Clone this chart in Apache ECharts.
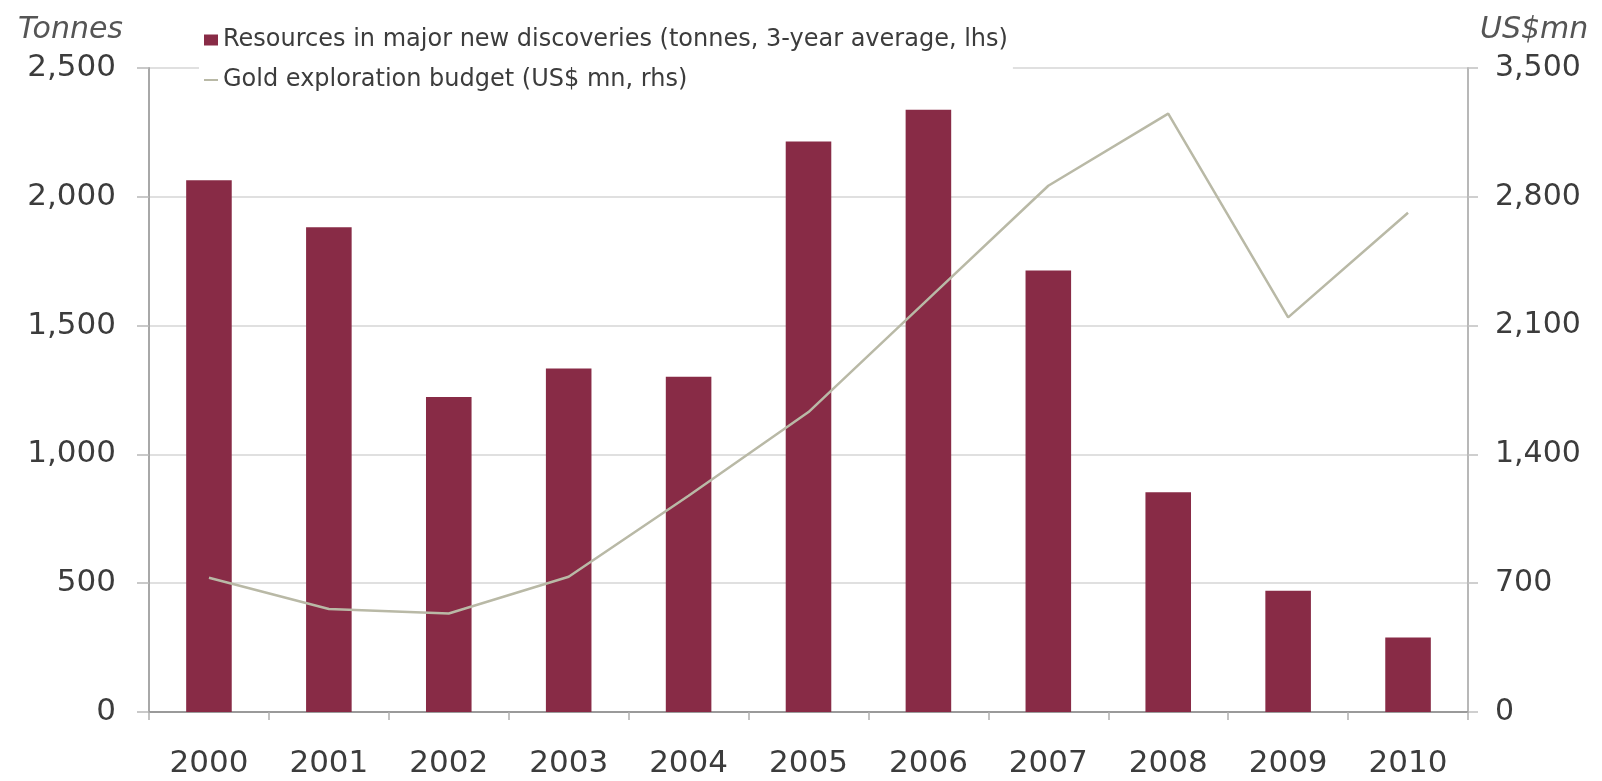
<!DOCTYPE html>
<html>
<head>
<meta charset="utf-8">
<script src="https://cdn.jsdelivr.net/npm/echarts@6/dist/echarts.min.js"></script>
<style>
  html, body { margin: 0; padding: 0; background: #ffffff; }
  #chart { width: 1602px; height: 781px; }
</style>
</head>
<body>
<div id="chart"></div>
<script>
const years = ['2000','2001','2002','2003','2004','2005','2006','2007','2008','2009','2010'];
const discoveries = [2064, 1882, 1223, 1333, 1301, 2215, 2338, 1714, 853, 471, 289];
const budget = [730, 560, 535, 735, 1175, 1630, 2245, 2860, 3252, 2145, 2713];
const leftTicks = { min: 0, max: 2500, interval: 500 };
const rightTicks = { min: 0, max: 3500, interval: 700 };
const barName = 'Resources in major new discoveries (tonnes, 3-year average, lhs)';
const lineName = 'Gold exploration budget (US$ mn, rhs)';

const fmt = v => String(v).replace(/\B(?=(\d{3})+(?!\d))/g, ',');
const FONT = 'DejaVu Sans';
const TEXT = '#3c3c3c';

const chart = echarts.init(document.getElementById('chart'), null, { renderer: 'canvas' });
chart.setOption({
  backgroundColor: '#ffffff',
  animation: false,
  grid: { left: 149, right: 134, top: 68, bottom: 69, containLabel: false },
  legend: {
    orient: 'vertical',
    left: 199,
    top: 23,
    padding: 5,
    backgroundColor: '#ffffff',
    itemWidth: 14,
    itemHeight: 11,
    itemGap: 16,
    textStyle: { fontFamily: FONT, fontSize: 24, color: TEXT, lineHeight: 20 },
    data: [
      { name: barName, icon: 'rect' },
      { name: lineName, icon: 'path://M0,0h14v2h-14z' }
    ]
  },
  xAxis: {
    type: 'category',
    data: years,
    axisLine: { lineStyle: { color: '#9a9a9a', width: 2 } },
    axisTick: { show: true, alignWithLabel: false, length: 8, lineStyle: { color: '#b0b0b0', width: 1.5 } },
    axisLabel: { fontFamily: FONT, fontSize: 31, color: TEXT, margin: 36 }
  },
  yAxis: [
    {
      type: 'value',
      min: leftTicks.min, max: leftTicks.max, interval: leftTicks.interval,
      name: 'Tonnes',
      nameLocation: 'end',
      nameGap: 38,
      nameTextStyle: { fontFamily: FONT, fontSize: 30, fontStyle: 'italic', color: '#555', align: 'right', verticalAlign: 'middle', padding: [0, 26, 0, 0] },
      axisLine: { show: true, lineStyle: { color: '#a8a8a8', width: 2 } },
      axisTick: { show: true, length: 12, lineStyle: { color: '#b8b8b8', width: 1.5 } },
      axisLabel: { fontFamily: FONT, fontSize: 31, color: TEXT, margin: 33, formatter: fmt },
      splitLine: { show: true, lineStyle: { color: '#d6d6d6', width: 1.5 } }
    },
    {
      type: 'value',
      min: rightTicks.min, max: rightTicks.max, interval: rightTicks.interval,
      name: 'US$mn',
      nameLocation: 'end',
      nameGap: 38,
      nameTextStyle: { fontFamily: FONT, fontSize: 30, fontStyle: 'italic', color: '#555', align: 'left', verticalAlign: 'middle', padding: [0, 0, 0, 12] },
      axisLine: { show: true, lineStyle: { color: '#b8b8b8', width: 2 } },
      axisTick: { show: true, length: 10, lineStyle: { color: '#c0c0c0', width: 1.5 } },
      axisLabel: { fontFamily: FONT, fontSize: 30, color: TEXT, margin: 27, formatter: fmt },
      splitLine: { show: false }
    }
  ],
  series: [
    {
      name: barName,
      type: 'bar',
      yAxisIndex: 0,
      data: discoveries,
      barCategoryGap: '62%',
      itemStyle: { color: '#882b46' }
    },
    {
      name: lineName,
      type: 'line',
      yAxisIndex: 1,
      data: budget,
      symbol: 'none',
      smooth: false,
      lineStyle: { color: '#b9b9a6', width: 2.5 },
      itemStyle: { color: '#b9b9a6' },
      z: 3
    }
  ]
});
</script>
</body>
</html>
